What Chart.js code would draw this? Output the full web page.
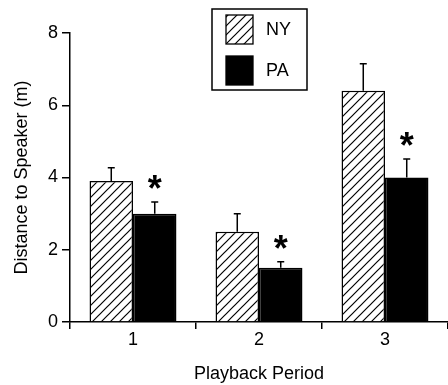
<!DOCTYPE html>
<html>
<head>
<meta charset="utf-8">
<script src="https://cdn.jsdelivr.net/npm/chart.js@4/dist/chart.umd.min.js"></script>
<style>
  html, body { margin: 0; padding: 0; background: #fff; }
  #wrap { width: 448px; height: 385px; }
</style>
</head>
<body>
<div id="wrap"><canvas id="c" width="448" height="385"></canvas></div>
<script>
// Playback periods and mean distance to speaker (m) with upper error bars
const periods = ['1', '2', '3'];
const nyMeans = [3.9, 2.5, 6.4];
const nyErrTop = [4.27, 3.0, 7.15];
const paMeans = [3.0, 1.5, 4.0];
const paErrTop = [3.32, 1.67, 4.51];
const paSignificant = [true, true, true];
const yTicks = [0, 2, 4, 6, 8];

const FONT = '"Liberation Sans", Arial, Helvetica, sans-serif';

// Diagonal "/" hatch fill
function makeHatch() {
  const s = 9;
  const p = document.createElement('canvas');
  p.width = s; p.height = s;
  const g = p.getContext('2d');
  g.fillStyle = '#fff';
  g.fillRect(0, 0, s, s);
  g.strokeStyle = '#000';
  g.lineWidth = 1.2;
  g.beginPath();
  g.moveTo(0, s); g.lineTo(s, 0);
  g.moveTo(-1, 1); g.lineTo(1, -1);
  g.moveTo(s - 1, s + 1); g.lineTo(s + 1, s - 1);
  g.stroke();
  return document.getElementById('c').getContext('2d').createPattern(p, 'repeat');
}
const hatch = makeHatch();

const errorTops = [nyErrTop, paErrTop];

// Upper error bars, significance asterisks and the boxed key
const extras = {
  id: 'extras',
  afterDatasetsDraw(chart) {
    const ctx = chart.ctx;
    const y = chart.scales.y;
    ctx.save();
    ctx.strokeStyle = '#000';
    ctx.lineWidth = 1.5;
    chart.data.datasets.forEach((ds, di) => {
      const meta = chart.getDatasetMeta(di);
      meta.data.forEach((bar, i) => {
        const top = y.getPixelForValue(errorTops[di][i]);
        ctx.beginPath();
        ctx.moveTo(bar.x, bar.y);
        ctx.lineTo(bar.x, top);
        ctx.moveTo(bar.x - 3.5, top);
        ctx.lineTo(bar.x + 3.5, top);
        ctx.stroke();
        if (di === 1 && paSignificant[i]) {
          ctx.fillStyle = '#000';
          ctx.font = 'bold 36px ' + FONT;
          ctx.textAlign = 'center';
          ctx.textBaseline = 'alphabetic';
          ctx.fillText('*', bar.x, top - 1);
        }
      });
    });

    // key box
    const bx = 212, by = 9, bw = 95, bh = 81;
    ctx.lineWidth = 1.5;
    ctx.strokeRect(bx, by, bw, bh);
    chart.data.datasets.forEach((ds, di) => {
      const sy = 15 + di * 41;
      ctx.fillStyle = ds.backgroundColor;
      ctx.fillRect(226, sy, 27, 29);
      ctx.lineWidth = 1.3;
      ctx.strokeRect(226, sy, 27, 29);
      ctx.fillStyle = '#000';
      ctx.font = '18px ' + FONT;
      ctx.textAlign = 'left';
      ctx.textBaseline = 'middle';
      ctx.fillText(ds.label, 266, sy + 15);
    });
    ctx.restore();
  }
};

new Chart(document.getElementById('c'), {
  type: 'bar',
  data: {
    labels: periods,
    datasets: [
      { label: 'NY', data: nyMeans, backgroundColor: hatch, borderColor: '#000', borderWidth: 1.5 },
      { label: 'PA', data: paMeans, backgroundColor: '#000', borderColor: '#000', borderWidth: 1.5 }
    ]
  },
  options: {
    responsive: false,
    animation: false,
    devicePixelRatio: 1,
    layout: { padding: { top: 33, right: 0, left: 0, bottom: 0 } },
    datasets: { bar: { categoryPercentage: 0.69, barPercentage: 1.0 } },
    plugins: { legend: { display: false }, tooltip: { enabled: false } },
    scales: {
      x: {
        offset: true,
        grid: { offset: true, drawOnChartArea: false, drawTicks: true, tickLength: 7, color: '#000', lineWidth: 1.5 },
        border: { color: '#000', width: 1.5 },
        ticks: { color: '#000', font: { family: FONT, size: 18 }, padding: 0 },
        title: { display: true, text: 'Playback Period', color: '#000', font: { family: FONT, size: 18 }, padding: { top: 0, bottom: 0 } },
        afterFit(scale) { scale.height = 63; }
      },
      y: {
        min: 0, max: 8,
        afterBuildTicks(scale) { scale.ticks = yTicks.map(v => ({ value: v })); },
        grid: { drawOnChartArea: false, drawTicks: true, tickLength: 8, color: '#000', lineWidth: 1.5 },
        border: { color: '#000', width: 1.5 },
        ticks: { color: '#000', font: { family: FONT, size: 18 }, padding: 4 },
        title: { display: true, text: 'Distance to Speaker (m)', color: '#000', font: { family: FONT, size: 18 }, padding: { top: 11, bottom: 0 } },
        afterFit(scale) { scale.width = 70; }
      }
    }
  },
  plugins: [extras]
});
</script>
</body>
</html>
